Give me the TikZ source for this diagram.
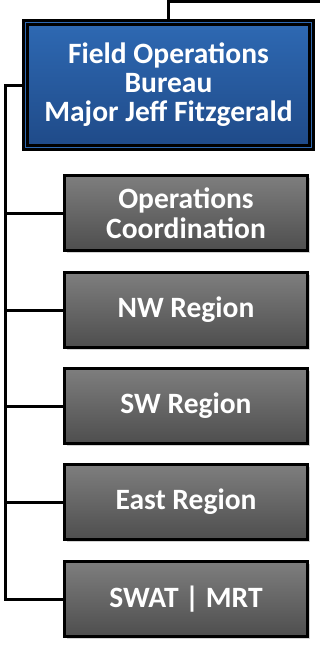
\documentclass[tikz,border=0pt]{standalone}
\usepackage{fontspec}
\setmainfont{Carlito}
\usetikzlibrary{shadows}
\definecolor{bureaublue}{HTML}{2E69B3}
\definecolor{bureaudark}{HTML}{1F4A88}
\definecolor{unitgray}{HTML}{7E7E7E}
\definecolor{unitdark}{HTML}{4E4E4E}
\tikzset{
  bureaubox/.style={draw=black, double=bureaublue, double distance=1.2pt,
    line width=2.6pt, top color=bureaublue, bottom color=bureaudark,
    minimum width=286pt, minimum height=125pt, align=center,
    text=white, font=\fontsize{29.5}{29}\selectfont\bfseries},
  unitbox/.style={draw=black, line width=3pt, top color=unitgray,
    bottom color=unitdark, minimum width=243pt, minimum height=75pt,
    align=center, text=white, font=\fontsize{29.5}{30}\selectfont\bfseries,
    drop shadow={shadow xshift=2pt, shadow yshift=-2pt, opacity=0.35}},
  orgline/.style={draw=black, line width=3pt}
}
\begin{document}
\begin{tikzpicture}[x=1pt, y=-1pt]
  \useasboundingbox (0,0) rectangle (320,648);
  \node[bureaubox] (bureau) at (168.5,85) {Field Operations\\Bureau\\Major Jeff Fitzgerald};
  \node[unitbox] (opscoord) at (186,213) {Operations\\Coordination};
  \node[unitbox] (nwreg) at (186,310) {NW Region};
  \node[unitbox] (swreg) at (186,406) {SW Region};
  \node[unitbox] (eastreg) at (186,502) {East Region};
  \node[unitbox] (swat) at (186,599) {SWAT | MRT};
  \coordinate (up) at (320,1.5);
  \coordinate (trunk) at (5,85);
  % connectors
  \draw[orgline] (bureau.north) |- (up);
  \draw[orgline] (bureau.west) -- (trunk) |- (swat.west);
  \draw[orgline] (opscoord.west) -- (opscoord.west -| trunk);
  \draw[orgline] (nwreg.west) -- (nwreg.west -| trunk);
  \draw[orgline] (swreg.west) -- (swreg.west -| trunk);
  \draw[orgline] (eastreg.west) -- (eastreg.west -| trunk);
\end{tikzpicture}
\end{document}
